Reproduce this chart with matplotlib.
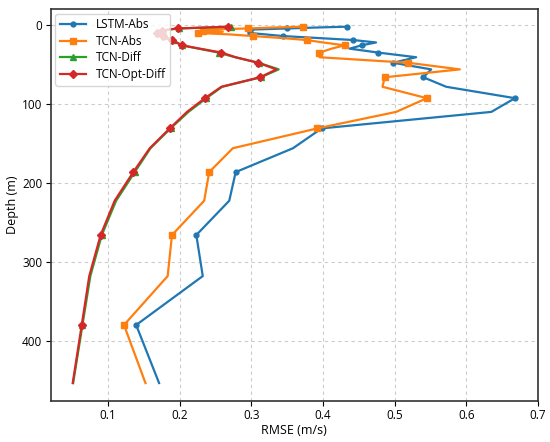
import matplotlib.pyplot as plt
import numpy as np

# depth levels (m)
depth = [1.541, 2.646, 3.819, 5.078, 6.441, 7.930, 9.573, 11.405, 13.467, 15.810,
         18.496, 21.599, 25.211, 29.445, 34.434, 40.344, 47.374, 55.764, 65.807, 77.854,
         92.326, 109.729, 130.666, 155.851, 186.126, 222.475, 266.040, 318.127, 380.213, 453.938]

lstm_abs = [0.434, 0.39, 0.35, 0.305, 0.298, 0.297, 0.298, 0.32, 0.344, 0.39,
            0.442, 0.474, 0.454, 0.437, 0.477, 0.530, 0.498, 0.551, 0.540, 0.572,
            0.668, 0.635, 0.398, 0.358, 0.278, 0.269, 0.223, 0.232, 0.139, 0.171]

tcn_abs = [0.372, 0.33, 0.295, 0.24, 0.232, 0.26, 0.226, 0.27, 0.302, 0.34,
           0.377, 0.40, 0.430, 0.412, 0.395, 0.395, 0.519, 0.591, 0.486, 0.483,
           0.545, 0.502, 0.392, 0.274, 0.241, 0.234, 0.189, 0.183, 0.122, 0.152]

tcn_diff = [0.272, 0.238, 0.199, 0.186, 0.176, 0.171, 0.169, 0.173, 0.178, 0.183,
            0.190, 0.196, 0.203, 0.226, 0.254, 0.277, 0.310, 0.338, 0.313, 0.259,
            0.237, 0.212, 0.187, 0.159, 0.137, 0.111, 0.091, 0.075, 0.064, 0.051]

tcn_opt_diff = [0.2675, 0.235, 0.197, 0.185, 0.175, 0.170, 0.168, 0.172, 0.176, 0.181,
                0.1885, 0.195, 0.2025, 0.228, 0.258, 0.278, 0.309, 0.335, 0.312, 0.258,
                0.235, 0.210, 0.186, 0.158, 0.135, 0.109, 0.0894, 0.0735, 0.063, 0.0504]

plt.rcParams['font.family'] = ['Open Sans', 'DejaVu Sans']

fig = plt.figure(figsize=(5.5, 4.42), dpi=100)
ax = fig.add_axes([0.092, 0.093, 0.886, 0.887])

ax.plot(lstm_abs, depth, '-', color='#1f77b4', marker='o', ms=3.5, markevery=2, lw=1.6, label='LSTM-Abs')
ax.plot(tcn_abs, depth, '-', color='#ff7f0e', marker='s', ms=4.5, markevery=2, lw=1.6, label='TCN-Abs')
ax.plot(tcn_diff, depth, '-', color='#2ca02c', marker='^', ms=5, markevery=2, lw=1.6, label='TCN-Diff')
ax.plot(tcn_opt_diff, depth, '-', color='#d62728', marker='D', ms=4, markevery=2, lw=1.6, label='TCN-Opt-Diff')

ax.invert_yaxis()
ax.set_xticks(np.arange(0.1, 0.71, 0.1))
ax.set_yticks([0, 100, 200, 300, 400])
ax.grid(True, linestyle=(0, (3, 3)), color='#cccccc', lw=0.8)
ax.set_xlabel('RMSE (m/s)', fontsize=9, labelpad=1)
ax.set_ylabel('Depth (m)', fontsize=9, labelpad=2)
ax.tick_params(labelsize=8.5, pad=2.5)
for s in ax.spines.values():
    s.set_color('#333333')
    s.set_linewidth(1.2)
ax.legend(loc='upper left', fontsize=8.5, handlelength=2.2, labelspacing=0.3,
          borderaxespad=0.4, borderpad=0.4)

fig.savefig('out.png')
